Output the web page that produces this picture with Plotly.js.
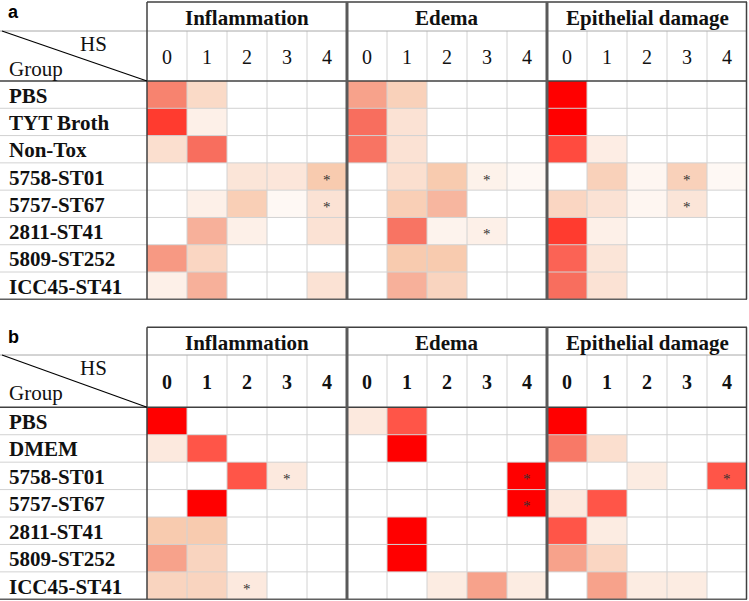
<!DOCTYPE html>
<html><head><meta charset="utf-8">
<script src="https://cdn.plot.ly/plotly-3.0.1.min.js"></script>
<style>html,body{margin:0;padding:0;background:#fff}#chart{width:749px;height:601px}</style>
</head><body><div id="chart"></div>
<script>
// ---------- data ----------
const categories = ['Inflammation', 'Edema', 'Epithelial damage'];
const scores = ['0', '1', '2', '3', '4'];

const groupsA = ['PBS', 'TYT Broth', 'Non-Tox', '5758-ST01', '5757-ST67', '2811-ST41', '5809-ST252', 'ICC45-ST41'];
// percentage of samples with each histological score (HS 0..4)
const inflammationA = [
  [65, 25, 0, 0, 0],
  [90, 10, 0, 0, 0],
  [22, 75, 0, 0, 0],
  [0, 0, 18, 17, 35],
  [0, 10, 32, 5, 20],
  [0, 48, 10, 0, 20],
  [58, 27, 0, 0, 0],
  [10, 48, 0, 0, 20]
];
const edemaA = [
  [55, 30, 0, 0, 0],
  [75, 20, 0, 0, 0],
  [72, 20, 0, 0, 0],
  [0, 22, 35, 9, 5],
  [0, 32, 45, 0, 0],
  [0, 72, 8, 10, 0],
  [0, 35, 35, 0, 0],
  [0, 48, 28, 0, 0]
];
const epithelialA = [
  [100, 0, 0, 0, 0],
  [100, 0, 0, 0, 0],
  [85, 12, 0, 0, 0],
  [0, 30, 6, 30, 5],
  [27, 20, 6, 18, 0],
  [90, 10, 0, 0, 0],
  [78, 18, 0, 0, 0],
  [75, 20, 0, 0, 0]
];
const starsA = [
  ['5758-ST01', 'Inflammation', 4], ['5757-ST67', 'Inflammation', 4],
  ['5758-ST01', 'Edema', 3], ['2811-ST41', 'Edema', 3],
  ['5758-ST01', 'Epithelial damage', 3], ['5757-ST67', 'Epithelial damage', 3]
];

const groupsB = ['PBS', 'DMEM', '5758-ST01', '5757-ST67', '2811-ST41', '5809-ST252', 'ICC45-ST41'];
const inflammationB = [
  [100, 0, 0, 0, 0],
  [15, 82, 0, 0, 0],
  [0, 0, 82, 15, 0],
  [0, 100, 0, 0, 0],
  [35, 35, 0, 0, 0],
  [55, 28, 0, 0, 0],
  [28, 28, 15, 0, 0]
];
const edemaB = [
  [15, 82, 0, 0, 0],
  [0, 100, 0, 0, 0],
  [0, 0, 0, 0, 100],
  [0, 0, 0, 0, 100],
  [0, 100, 0, 0, 0],
  [0, 100, 0, 0, 0],
  [0, 0, 13, 55, 13]
];
const epithelialB = [
  [100, 0, 0, 0, 0],
  [70, 22, 0, 0, 0],
  [0, 0, 13, 0, 82],
  [15, 82, 0, 0, 0],
  [82, 13, 0, 0, 0],
  [55, 27, 0, 0, 0],
  [0, 55, 13, 13, 0]
];
const starsB = [
  ['5758-ST01', 'Inflammation', 3], ['ICC45-ST41', 'Inflammation', 2],
  ['5758-ST01', 'Edema', 4], ['5757-ST67', 'Edema', 4],
  ['5758-ST01', 'Epithelial damage', 4]
];

// ---------- layout geometry (pixels) ----------
const W = 749, H = 601;
const X0 = 147, X1 = 747;
const colW = (X1 - X0) / 15;
const panels = [
  {key: 'a', top: 2, hdr: 31, colRow: 81, bottom: 299.3, groups: groupsA,
   mats: [inflammationA, edemaA, epithelialA], stars: starsA, yaxis: 'y', boldScores: false},
  {key: 'b', top: 327.3, hdr: 355, colRow: 407.3, bottom: 599.3, groups: groupsB,
   mats: [inflammationB, edemaB, epithelialB], stars: starsB, yaxis: 'y2', boldScores: true}
];
const xp = px => px / W;
const yp = py => 1 - py / H;

const colorscale = [
  [0, '#ffffff'], [0.10, '#fdf0e8'], [0.20, '#fbe2d4'], [0.30, '#f9d1ba'],
  [0.35, '#f8cbaf'], [0.48, '#f7b09a'], [0.55, '#f7a28b'], [0.65, '#f7836f'],
  [0.75, '#f86e5e'], [0.82, '#ff5548'], [0.90, '#ff3b2f'], [1, '#ff0000']
];

const serif = 'Liberation Serif, Times New Roman, serif';
const traces = [], shapes = [], annotations = [];

function line(x0, y0, x1, y1, color, width) {
  return {type: 'line', xref: 'paper', yref: 'paper', layer: 'above',
    x0: xp(x0), y0: yp(y0), x1: xp(x1), y1: yp(y1), line: {color: color, width: width}};
}

const layout = {
  width: W, height: H, margin: {l: 0, r: 0, t: 0, b: 0},
  paper_bgcolor: '#ffffff', plot_bgcolor: '#ffffff', showlegend: false,
  xaxis: {domain: [xp(X0), xp(X1)], range: [-0.5, 14.5], visible: false, fixedrange: true}
};

panels.forEach((P, pi) => {
  const n = P.groups.length;
  const z = P.groups.map((g, r) => [].concat(P.mats[0][r], P.mats[1][r], P.mats[2][r]));
  const xs = [];
  categories.forEach((c, ci) => scores.forEach((s, si) => xs.push(ci * 5 + si)));
  traces.push({type: 'heatmap', z: z, x: xs, y: P.groups.map((g, i) => i),
    xaxis: 'x', yaxis: P.yaxis, colorscale: colorscale, zmin: 0, zmax: 100,
    showscale: false, hoverinfo: 'skip'});
  const axName = pi === 0 ? 'yaxis' : 'yaxis2';
  layout[axName] = {domain: [yp(P.bottom), yp(P.colRow)], range: [n - 0.5, -0.5],
    visible: false, anchor: 'x', fixedrange: true};

  const rowH = (P.bottom - P.colRow) / n;
  // light grid
  for (let r = 1; r < n; r++) shapes.push(line(0, P.colRow + r * rowH, X1, P.colRow + r * rowH, '#d2d2d2', 1));
  for (let k = 1; k < 15; k++) if (k % 5) shapes.push(line(X0 + k * colW, P.hdr, X0 + k * colW, P.bottom, '#d2d2d2', 1));
  // borders
  shapes.push(line(0, P.hdr, X1, P.hdr, '#a8a8a8', 1));
  shapes.push(line(X0, P.top, X1, P.top, '#404040', 1.5));
  shapes.push(line(0, P.colRow, X1, P.colRow, '#404040', 1.5));
  shapes.push(line(0, P.bottom, X1, P.bottom, '#606060', 1.5));
  shapes.push(line(X0, P.top, X0, P.bottom, '#404040', 1.5));
  shapes.push(line(X1 - 0.5, P.top, X1 - 0.5, P.bottom, '#404040', 1.5));
  shapes.push(line(X0 + 5 * colW, P.top, X0 + 5 * colW, P.bottom, '#5a5a5a', 3));
  shapes.push(line(X0 + 10 * colW, P.top, X0 + 10 * colW, P.bottom, '#5a5a5a', 3));
  shapes.push(line(2, P.hdr, X0, P.colRow, '#000000', 1.2));

  // panel letter
  annotations.push({text: '<b>' + P.key + '</b>', xref: 'paper', yref: 'paper',
    x: xp(6), y: yp(P.top + 10), xanchor: 'left', yanchor: 'middle', showarrow: false,
    font: {family: 'Liberation Sans, Arial, sans-serif', size: 18, color: '#000'}});
  // category titles
  categories.forEach((c, ci) => {
    annotations.push({text: '<b>' + c + '</b>', xref: 'paper', yref: 'paper',
      x: xp(X0 + (ci * 5 + 2.5) * colW), y: yp((P.top + P.hdr) / 2 + 1.5), xanchor: 'center', yanchor: 'middle',
      showarrow: false, font: {family: serif, size: 21, color: '#111'}});
    scores.forEach((s, si) => {
      annotations.push({text: P.boldScores ? '<b>' + s + '</b>' : s, xref: 'paper', yref: 'paper',
        x: xp(X0 + (ci * 5 + si + 0.5) * colW), y: yp((P.hdr + P.colRow) / 2 + 1), xanchor: 'center', yanchor: 'middle',
        showarrow: false, font: {family: serif, size: 20, color: '#111'}});
    });
  });
  // corner labels
  annotations.push({text: 'HS', xref: 'paper', yref: 'paper', x: xp(93), y: yp(P.hdr + 13),
    xanchor: 'center', yanchor: 'middle', showarrow: false, font: {family: serif, size: 21, color: '#111'}});
  annotations.push({text: 'Group', xref: 'paper', yref: 'paper', x: xp(7), y: yp(P.hdr + 38),
    xanchor: 'left', yanchor: 'middle', showarrow: false, font: {family: serif, size: 21, color: '#111'}});
  // row labels
  P.groups.forEach((g, r) => {
    annotations.push({text: '<b>' + g + '</b>', xref: 'paper', yref: P.yaxis, x: xp(7), y: r,
      xanchor: 'left', yanchor: 'middle', yshift: -1, showarrow: false,
      font: {family: serif, size: 21, color: '#111'}});
  });
  // significance asterisks
  P.stars.forEach(st => {
    annotations.push({text: '*', xref: 'x', yref: P.yaxis,
      x: categories.indexOf(st[1]) * 5 + st[2], y: P.groups.indexOf(st[0]),
      xanchor: 'center', yanchor: 'middle', yshift: -3, showarrow: false,
      font: {family: serif, size: 15, color: '#333'}});
  });
});

layout.shapes = shapes;
layout.annotations = annotations;
Plotly.newPlot('chart', traces, layout, {staticPlot: true, displayModeBar: false});
</script></body></html>
